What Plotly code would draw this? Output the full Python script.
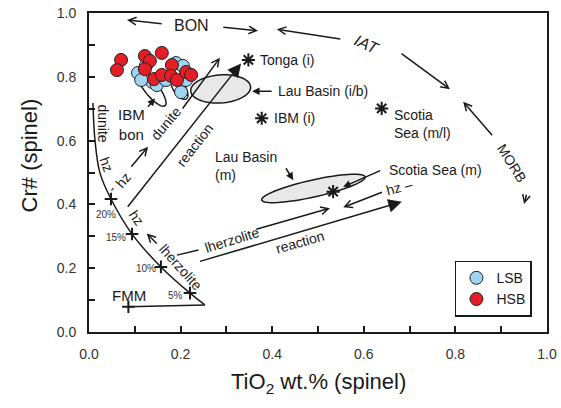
import numpy as np
import plotly.graph_objects as go

# ---------------- data ----------------
lsb_tio2 = [0.107, 0.124, 0.138, 0.148, 0.168, 0.190, 0.205, 0.201, 0.212, 0.114]
lsb_cr = [0.812, 0.834, 0.784, 0.774, 0.790, 0.843, 0.834, 0.752, 0.790, 0.790]

hsb_tio2 = [0.070, 0.061, 0.122, 0.133, 0.159, 0.122, 0.181, 0.142, 0.159, 0.179, 0.192, 0.212, 0.223]
hsb_cr = [0.853, 0.821, 0.865, 0.850, 0.875, 0.824, 0.837, 0.793, 0.806, 0.803, 0.790, 0.815, 0.806]

ref_names = ["Tonga (i)", "IBM (i)", "Scotia Sea (m/l)", "Scotia Sea (m)"]
ref_tio2 = [0.348, 0.377, 0.639, 0.533]
ref_cr = [0.853, 0.670, 0.701, 0.440]

# FMM partial melting trend
curve_tio2 = [0.253, 0.2205, 0.157, 0.094, 0.048, 0.024, 0.013, 0.0087]
curve_cr = [0.085, 0.122, 0.204, 0.307, 0.417, 0.498, 0.602, 0.718]
fmm_line_tio2 = [0.086, 0.253]
fmm_line_cr = [0.079, 0.085]
melt_labels = ["5%", "10%", "15%", "20%"]
melt_tio2 = [0.2205, 0.157, 0.094, 0.048]
melt_cr = [0.122, 0.204, 0.307, 0.417]

x_ticks = [0.0, 0.2, 0.4, 0.6, 0.8, 1.0]
y_ticks = [0.0, 0.2, 0.4, 0.6, 0.8, 1.0]

FONT = "Arial, Liberation Sans, sans-serif"
BLUE = "#9fd5f1"
RED = "#e31e26"
INK = "#1a1a1a"

# pixel scale of the axes (px per unit), for drawing tilted outlines
SX, SY = 458.0, 319.0


def ellipse_path(cx, cy, a_px, b_px, ang_deg, n=72):
    t = np.linspace(0, 2 * np.pi, n)
    th = np.radians(ang_deg)
    dx = a_px * np.cos(t) * np.cos(th) - b_px * np.sin(t) * np.sin(th)
    dy = a_px * np.cos(t) * np.sin(th) + b_px * np.sin(t) * np.cos(th)
    xs = cx + dx / SX
    ys = cy + dy / SY
    pts = " L ".join(f"{x:.5f},{y:.5f}" for x, y in zip(xs, ys))
    return "M " + pts + " Z"


fig = go.Figure()

# melting curve
fig.add_trace(go.Scatter(x=curve_tio2, y=curve_cr, mode="lines",
                         line=dict(color=INK, width=1.5, shape="spline"),
                         showlegend=False, hoverinfo="skip"))
fig.add_trace(go.Scatter(x=fmm_line_tio2, y=fmm_line_cr, mode="lines",
                         line=dict(color=INK, width=1.5),
                         showlegend=False, hoverinfo="skip"))
fig.add_trace(go.Scatter(x=melt_tio2 + [fmm_line_tio2[0]], y=melt_cr + [fmm_line_cr[0]],
                         mode="markers",
                         marker=dict(symbol="cross-thin", size=9, line=dict(color=INK, width=2)),
                         showlegend=False, hoverinfo="skip"))

# reference stars
fig.add_trace(go.Scatter(x=ref_tio2, y=ref_cr, mode="markers",
                         marker=dict(symbol="asterisk", size=11, color=INK,
                                     line=dict(color=INK, width=2)),
                         showlegend=False, text=ref_names))

fig.add_trace(go.Scatter(x=lsb_tio2, y=lsb_cr, mode="markers", name="LSB",
                         marker=dict(size=13, color=BLUE, line=dict(color="#222", width=1))))
fig.add_trace(go.Scatter(x=hsb_tio2, y=hsb_cr, mode="markers", name="HSB",
                         marker=dict(size=13, color=RED, line=dict(color="#222", width=1))))

shapes = [
    dict(type="path", path=ellipse_path(0.2875, 0.762, 30, 14, 4), xref="x", yref="y",
         fillcolor="#e8e8e8", line=dict(color=INK, width=1.5), layer="below"),
    dict(type="path", path=ellipse_path(0.490, 0.450, 53, 8.5, 12.6), xref="x", yref="y",
         fillcolor="#e8e8e8", line=dict(color=INK, width=1.5), layer="below"),
    dict(type="path", path=ellipse_path(0.135, 0.766, 23, 7, -52), xref="x", yref="y",
         fillcolor="white", line=dict(color=INK, width=1.5), layer="below"),
    dict(type="path", path=ellipse_path(0.197, 0.765, 13, 6, -57), xref="x", yref="y",
         fillcolor="white", line=dict(color=INK, width=1.5), layer="below"),
    dict(type="line", x0=0.192, y0=0.241, x1=0.239, y1=0.257, xref="x", yref="y",
         line=dict(color=INK, width=1.5)),
]


def arrow(tail, head, style=5, size=1.0, width=1.5):
    return dict(x=head[0], y=head[1], ax=tail[0], ay=tail[1], xref="x", yref="y",
                axref="x", ayref="y", text="", showarrow=True, arrowhead=style,
                arrowsize=size, arrowwidth=width, arrowcolor=INK)


def label(x, y, text, size=14, angle=0, xanchor="center", align="center", color=INK):
    return dict(x=x, y=y, xref="x", yref="y", text=text, showarrow=False,
                textangle=angle, xanchor=xanchor, yanchor="middle", align=align,
                font=dict(family=FONT, size=size, color=color))


ann = [
    arrow((0.162, 0.966), (0.083, 0.978)),
    arrow((0.290, 0.956), (0.369, 0.944)),
    arrow((0.552, 0.918), (0.410, 0.949)),
    arrow((0.679, 0.876), (0.788, 0.761)),
    arrow((0.883, 0.612), (0.817, 0.722)),
    arrow((0.956, 0.435), (0.950, 0.401)),
    arrow((0.082, 0.388), (0.332, 0.842), style=2, size=1.8),
    arrow((0.202, 0.696), (0.286, 0.860)),
    arrow((0.0895, 0.513), (0.129, 0.581)),
    arrow((0.126, 0.701), (0.144, 0.733), style=2, size=1.0),
    arrow((0.402, 0.755), (0.356, 0.755), style=2, size=1.0),
    arrow((0.639, 0.508), (0.555, 0.455), style=2, size=1.0),
    arrow((0.428, 0.518), (0.446, 0.476), style=2, size=1.0),
    arrow((0.151, 0.273), (0.126, 0.309)),
    arrow((0.362, 0.321), (0.526, 0.388)),
    arrow((0.643, 0.440), (0.555, 0.391)),
    arrow((0.239, 0.220), (0.683, 0.408), style=2, size=1.8),

    label(0.224, 0.962, "BON", 16),
    label(0.606, 0.900, "<i>IAT</i>", 16, 25),
    label(0.923, 0.530, "MORB", 14, 58),
    label(0.368, 0.853, "Tonga (i)", 14, xanchor="left"),
    label(0.408, 0.756, "Lau Basin (i/b)", 14, xanchor="left"),
    label(0.399, 0.670, "IBM (i)", 14, xanchor="left"),
    label(0.661, 0.652, "Scotia<br>Sea (m/l)", 14, xanchor="left", align="left"),
    label(0.650, 0.508, "Scotia Sea (m)", 14, xanchor="left"),
    label(0.271, 0.520, "Lau Basin<br>(m)", 14, xanchor="left", align="left"),
    label(0.092, 0.652, "IBM<br>bon", 15),
    label(0.169, 0.654, "dunite", 14, -50),
    label(0.231, 0.586, "reaction", 14, -52),
    label(0.031, 0.653, "dunite", 14, 90),
    label(0.039, 0.524, "hz", 14, 70),
    label(0.050, 0.451, "-", 14, -50),
    label(0.075, 0.476, "hz", 14, -50),
    label(0.104, 0.357, "hz", 14, 55),
    label(0.200, 0.205, "lherzolite", 14, 48),
    label(0.312, 0.288, "lherzolite", 14, -17),
    label(0.461, 0.283, "reaction", 14, -16),
    label(0.679, 0.453, "hz –", 14, -15),
    label(0.0877, 0.116, "FMM", 15),
]
for txt, x, y in zip(melt_labels, [0.188, 0.124, 0.060, 0.038], [0.114, 0.200, 0.297, 0.367]):
    ann.append(label(x, y, txt, 10, color="#333"))

ann.append(dict(x=0.5, y=-0.16, xref="paper", yref="paper", showarrow=False,
                text="TiO<sub>2</sub> wt.% (spinel)", xanchor="center", yanchor="middle",
                font=dict(family=FONT, size=22, color=INK)))
ann.append(dict(x=-0.130, y=0.555, xref="paper", yref="paper", showarrow=False,
                text="Cr# (spinel)", textangle=-90, xanchor="center", yanchor="middle",
                font=dict(family=FONT, size=22, color=INK)))

axis_common = dict(range=[0, 1], showline=True, mirror=True, linecolor=INK, linewidth=2,
                   ticks="inside", ticklen=6, tickwidth=1.5, tickcolor=INK,
                   tickformat=".1f", showgrid=False, zeroline=False,
                   tickfont=dict(family=FONT, size=14, color="#333"),
                   minor=dict(ticks="inside", dtick=0.1, ticklen=6, tickwidth=1.5,
                              tickcolor=INK, showgrid=False),
                   ticklabelstandoff=8, automargin=False)

fig.update_layout(
    width=561, height=408,
    margin=dict(l=89, r=14, t=13, b=76),
    plot_bgcolor="white", paper_bgcolor="white",
    xaxis=dict(tickvals=x_ticks, **axis_common),
    yaxis=dict(tickvals=y_ticks, **axis_common),
    shapes=shapes, annotations=ann,
    legend=dict(x=0.799, y=0.2235, xanchor="left", yanchor="top",
                bgcolor="white", bordercolor=INK, borderwidth=1.5,
                font=dict(family=FONT, size=14, color=INK),
                itemwidth=30, tracegroupgap=0),
    font=dict(family=FONT),
)

# remove the page's default body margin so the 561x408 figure fills the window exactly
fig.write_html("out.html", config={"displayModeBar": False},
               post_script="document.body.style.margin='0';document.body.style.overflow='hidden';")
